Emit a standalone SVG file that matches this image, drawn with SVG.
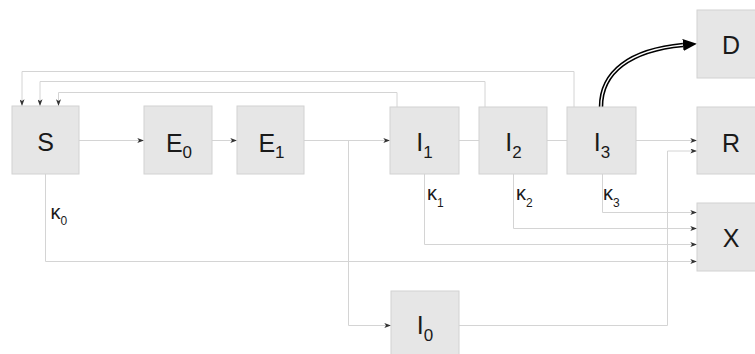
<svg xmlns="http://www.w3.org/2000/svg" width="755" height="354" viewBox="0 0 755 354">
<style>
.box{fill:#e6e6e6;stroke:#d2d2d2;stroke-width:1}
.lbl{font-family:"Liberation Sans",Arial,sans-serif;font-size:25px;fill:#1a1a1a;text-anchor:middle}
.sub{font-size:17px}
.k{font-family:"Liberation Sans",Arial,sans-serif;font-size:20px;fill:#1a1a1a}
.ks{font-size:12px}
.c{fill:none;stroke:#d4d4d4;stroke-width:1}
.a{marker-end:url(#ar)}
</style>
<defs>
<marker id="ar" viewBox="0 0 8 6" refX="8" refY="3" markerWidth="7" markerHeight="5" markerUnits="userSpaceOnUse" orient="auto">
<path d="M0,0 L8,3 L0,6 L2,3 z" fill="#333"/>
</marker>
<marker id="big" viewBox="0 0 14 12" refX="0" refY="6" markerWidth="14" markerHeight="12" markerUnits="userSpaceOnUse" orient="auto">
<path d="M0,0 L14,6 L0,12 z" fill="#000"/>
</marker>
</defs>
<g id="connectors">
<path class="c a" d="M397,107 V92.5 H58.5 V106"/>
<path class="c a" d="M485,107 V81.5 H40 V106"/>
<path class="c a" d="M574,107 V71.5 H22 V106"/>
<path class="c a" d="M79,140.5 H144"/>
<path class="c a" d="M212,140.5 H237"/>
<path class="c a" d="M304,140.5 H390"/>
<path class="c" d="M459,140.5 H479"/>
<path class="c" d="M547,140.5 H567"/>
<path class="c a" d="M636,140.5 H697"/>
<path class="c a" d="M348.5,140.5 V325.5 H391"/>
<path class="c a" d="M459,325.5 H667.5 V151 H697"/>
<path class="c a" d="M45.5,174 V261.5 H697"/>
<path class="c a" d="M424.5,174 V244.5 H697"/>
<path class="c a" d="M513.5,174 V228.5 H697"/>
<path class="c a" d="M602.5,174 V212.5 H697"/>
<path d="M601,107 C601,72 630,50 683,45" fill="none" stroke="#000" stroke-width="4.5" marker-end="url(#big)"/>
<path d="M601,107 C601,72 630,50 683,45" fill="none" stroke="#fff" stroke-width="1.4"/>
<text class="k" x="50.5" y="219">κ<tspan class="ks" dy="5.5">0</tspan></text>
<text class="k" x="427" y="200">κ<tspan class="ks" dy="6.5">1</tspan></text>
<text class="k" x="516" y="200">κ<tspan class="ks" dy="6.5">2</tspan></text>
<text class="k" x="603" y="200">κ<tspan class="ks" dy="6.5">3</tspan></text>
</g>
<g id="S"><rect class="box" x="12" y="106" width="67" height="68"/><text class="lbl" x="45.5" y="151">S</text></g>
<g id="E0"><rect class="box" x="144" y="106" width="68" height="68"/><text class="lbl" x="179" y="152">E<tspan class="sub" dy="6">0</tspan></text></g>
<g id="E1"><rect class="box" x="237" y="106" width="67" height="68"/><text class="lbl" x="271.5" y="152">E<tspan class="sub" dy="6">1</tspan></text></g>
<g id="I1"><rect class="box" x="390" y="107" width="69" height="67"/><text class="lbl" x="424.5" y="151">I<tspan class="sub" dy="7">1</tspan></text></g>
<g id="I2"><rect class="box" x="479" y="107" width="68" height="67"/><text class="lbl" x="513.5" y="151">I<tspan class="sub" dy="7">2</tspan></text></g>
<g id="I3"><rect class="box" x="567" y="107" width="69" height="67"/><text class="lbl" x="602" y="151">I<tspan class="sub" dy="7">3</tspan></text></g>
<g id="D"><rect class="box" x="697" y="10" width="68" height="68"/><text class="lbl" x="731" y="54">D</text></g>
<g id="R"><rect class="box" x="697" y="107" width="68" height="67"/><text class="lbl" x="731" y="152">R</text></g>
<g id="X"><rect class="box" x="697" y="203" width="68" height="68"/><text class="lbl" x="731" y="247">X</text></g>
<g id="I0"><rect class="box" x="391" y="291" width="68" height="68"/><text class="lbl" x="425" y="334">I<tspan class="sub" dy="7">0</tspan></text></g>
</svg>
